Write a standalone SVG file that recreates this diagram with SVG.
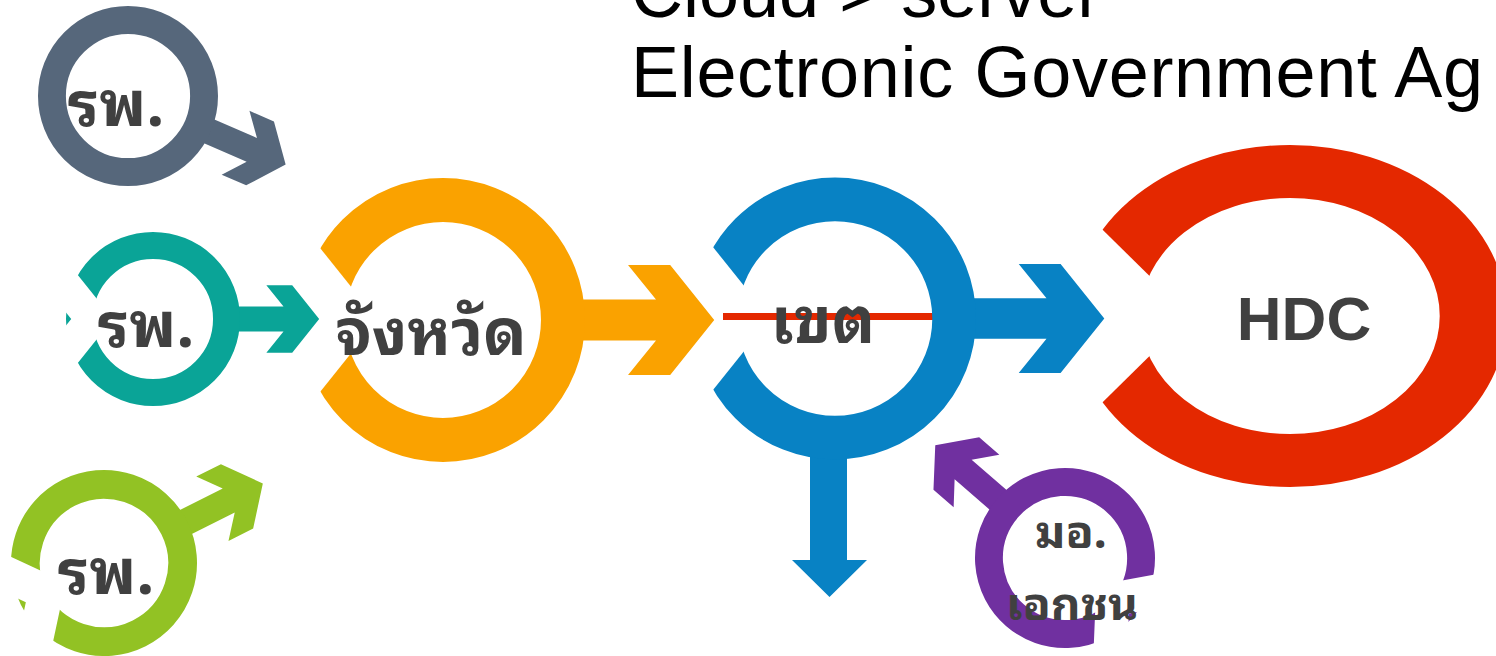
<svg xmlns="http://www.w3.org/2000/svg" width="1496" height="656" viewBox="0 0 1496 656">
<style>
.ring{fill:none;stroke-width:31}
.th{font-family:"Noto Sans Thai Looped","Loma","Garuda","Noto Sans Thai","Noto Sans","DejaVu Sans",sans-serif;font-weight:bold;fill:#404040;text-anchor:middle}
.title{font-family:"Liberation Sans",Arial,sans-serif;font-size:72px;fill:#000}
</style>
<defs>
<mask id="cut" maskUnits="userSpaceOnUse" x="-300" y="-300" width="600" height="600">
<rect x="-300" y="-300" width="600" height="600" fill="#fff"/>
<polygon points="-46,0 -146,-125 -194,-125 -94,0 -194,125 -146,125" fill="#000"/>
</mask>
<mask id="cutL" maskUnits="userSpaceOnUse" x="-300" y="-300" width="600" height="600">
<rect x="-300" y="-300" width="600" height="600" fill="#fff"/>
<polygon points="-46,0 -146,-125 -300,-125 -300,125 -146,125" fill="#000"/>
</mask>
<polygon id="arr" points="90,-14.4 150,-14.4 130.3,-38.7 160,-38.7 191,0 160,38.7 130.3,38.7 150,14.4 90,14.4"/>
</defs>

<g id="title" class="title">
<text x="631" y="17">Cloud &gt; server</text>
<text x="631" y="97" textLength="852" lengthAdjust="spacing">Electronic Government Ag</text>
</g>

<g id="connectors">
<use href="#arr" fill="#56677B" transform="translate(128,96) rotate(23.5) scale(0.9)"/>
<use href="#arr" fill="#0AA497" transform="translate(153,319) scale(0.87)"/>
<use href="#arr" fill="#92C224" transform="translate(104,563) rotate(-26.6) scale(0.93)"/>
<use href="#arr" fill="#FAA200" transform="translate(443,320) scale(1.42)"/>
<use href="#arr" fill="#0882C4" transform="translate(835,318.5) scale(1.41)"/>
<use href="#arr" fill="#7030A0" transform="translate(1065,558) rotate(221) scale(0.9)"/>
<path d="M810,440 V560 H792 L829.5,597 L867,560 H847 V440 Z" fill="#0882C4"/>
<rect x="723" y="313" width="212" height="7" fill="#E42800"/>
</g>

<g id="node-rp1">
<circle class="ring" stroke="#56677B" cx="0" cy="0" r="84.5" transform="translate(128,96) scale(0.9)"/>
<text class="th" x="116" y="126" font-size="63">รพ.</text>
</g>

<g id="node-rp2">
<g transform="translate(153,319) scale(0.87)"><circle class="ring" stroke="#0AA497" r="84.5" mask="url(#cut)"/></g>
<text class="th" x="146" y="347" font-size="63">รพ.</text>
</g>

<g id="node-rp3">
<g transform="translate(104,563) rotate(-26.6) scale(0.93)"><circle class="ring" stroke="#92C224" r="84.5" mask="url(#cut)"/></g>
<text class="th" x="106" y="594" font-size="63">รพ.</text>
</g>

<g id="node-province">
<g transform="translate(443,320) scale(1.42)"><circle class="ring" stroke="#FAA200" r="84.5" mask="url(#cutL)"/></g>
<text class="th" x="431" y="355" font-size="64">จังหวัด</text>
</g>

<g id="node-region">
<g transform="translate(835,318.5) scale(1.41)"><circle class="ring" stroke="#0882C4" r="84.5" mask="url(#cutL)"/></g>
<text class="th" x="823" y="343" font-size="64">เขต</text>
</g>

<g id="node-hdc">
<g transform="translate(1290,316) scale(2.17,1.71)"><circle class="ring" stroke="#E42800" r="84.5" mask="url(#cutL)"/></g>
<text x="1304" y="340" font-family="Liberation Sans, Arial, sans-serif" font-weight="bold" font-size="62" fill="#404040" text-anchor="middle">HDC</text>
</g>

<g id="node-univ">
<g transform="translate(1065,558) rotate(221) scale(0.9)"><circle class="ring" stroke="#7030A0" r="84.5" mask="url(#cut)"/></g>
<text class="th" x="1071" y="548" font-size="46">มอ.</text>
<text class="th" x="1072" y="620" font-size="46">เอกชน</text>
</g>
</svg>
